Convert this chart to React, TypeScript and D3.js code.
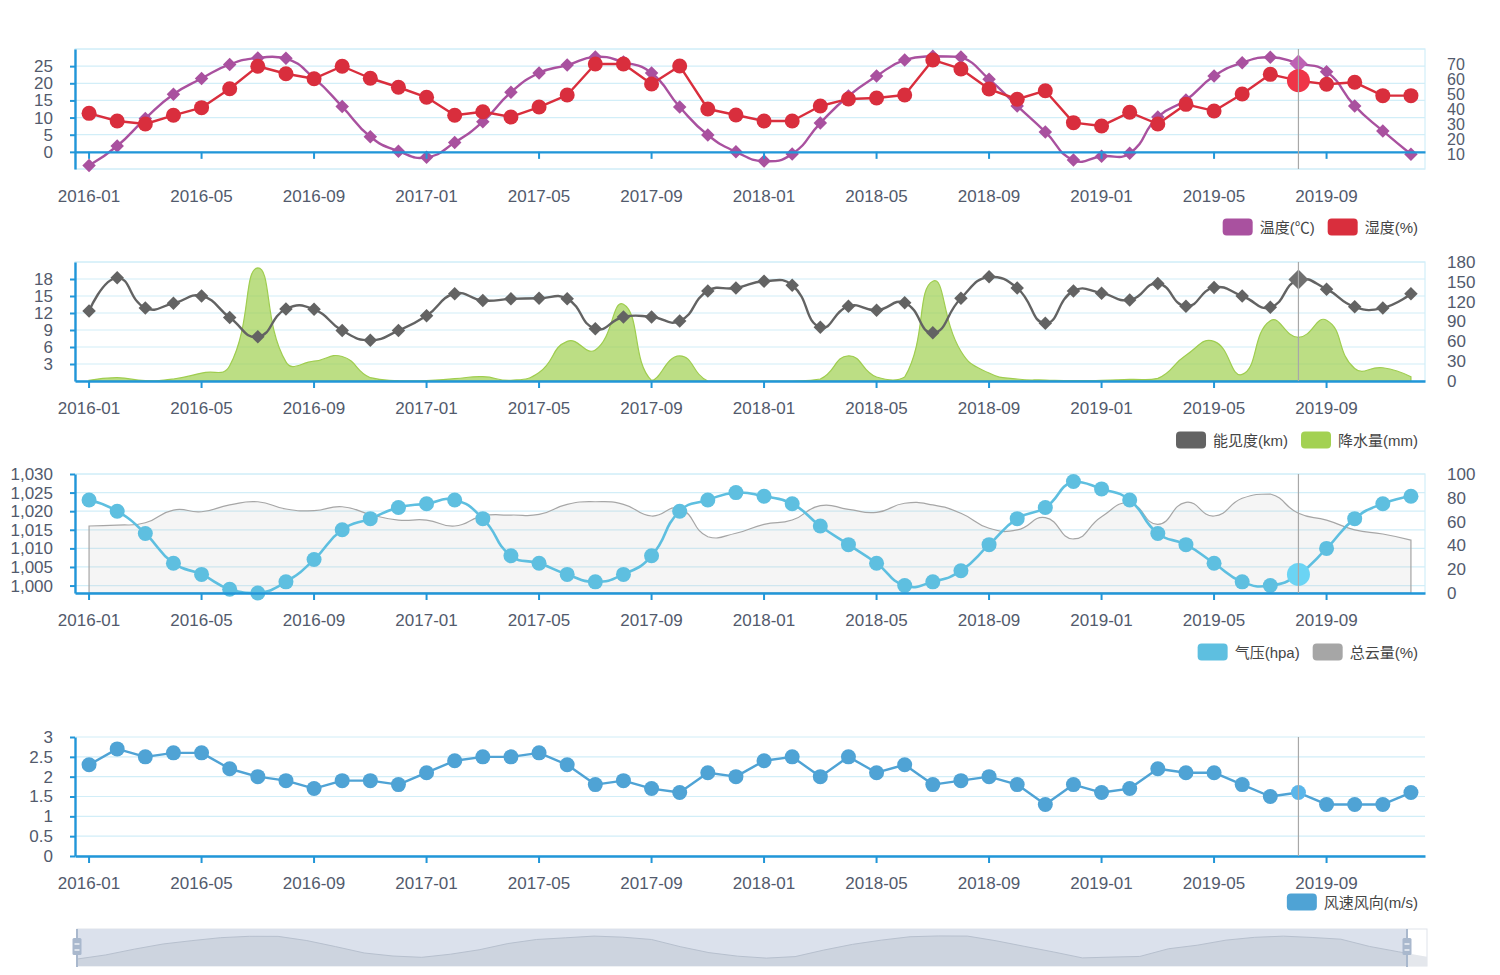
import React, { useEffect, useRef } from 'react';
import * as d3 from 'd3';

const months = [
  '2016-01', '2016-02', '2016-03', '2016-04', '2016-05', '2016-06', '2016-07', '2016-08', '2016-09', '2016-10', '2016-11', '2016-12',
  '2017-01', '2017-02', '2017-03', '2017-04', '2017-05', '2017-06', '2017-07', '2017-08', '2017-09', '2017-10', '2017-11', '2017-12',
  '2018-01', '2018-02', '2018-03', '2018-04', '2018-05', '2018-06', '2018-07', '2018-08', '2018-09', '2018-10', '2018-11', '2018-12',
  '2019-01', '2019-02', '2019-03', '2019-04', '2019-05', '2019-06', '2019-07', '2019-08', '2019-09', '2019-10', '2019-11', '2019-12',
];

const temperature = [
  -4.0, 1.7, 9.7, 16.8, 21.4, 25.5, 27.4, 27.3, 21.5, 13.2, 4.4, 0.2,
  -1.6, 2.7, 8.8, 17.4, 23.0, 25.3, 27.7, 26.2, 23.0, 13.1, 4.9, 0.0,
  -2.7, -0.6, 8.4, 16.3, 22.1, 26.8, 27.9, 27.7, 21.2, 13.4, 5.8, -2.4,
  -1.3, -0.4, 10.2, 15.1, 22.1, 26.0, 27.6, 25.8, 23.4, 13.4, 6.1, -0.7,
];
const humidity = [
  37.1, 32, 30, 35.8, 40.9, 53.5, 68.5, 63.5, 60.2, 68.5, 60.5, 54.5,
  47.8, 35.8, 38.2, 34.7, 41.3, 49.3, 70, 70, 56.7, 68.7, 40, 36,
  32, 32, 42, 46.7, 47.3, 49.3, 72.7, 66.7, 53.3, 46.5, 52.2, 30.9,
  28.7, 37.8, 30, 43.1, 38.7, 50, 63.1, 58.9, 56.5, 57.8, 48.9, 48.9,
];
const visibility = [
  12.35, 18.2, 12.9, 13.7, 15, 11.2, 7.8, 12.7, 12.65, 8.9, 7.2, 8.9,
  11.5, 15.4, 14.2, 14.5, 14.6, 14.5, 9.2, 11.3, 11.3, 10.6, 15.9, 16.4,
  17.6, 16.9, 9.5, 13.2, 12.5, 13.8, 8.5, 14.6, 18.4, 16.4, 10.2, 15.9,
  15.5, 14.3, 17.2, 13.2, 16.5, 15, 13, 17.9, 16.2, 13.1, 12.9, 15.4,
];
const precipitation = [
  1, 5, 0.5, 3, 12, 23, 171, 29, 30, 37, 5, 0.5,
  0.5, 3.5, 6.5, 1, 13, 60, 47, 116, 1, 38, 0, 0,
  0, 0, 3, 38, 6, 6, 151, 45, 12, 3, 1.5, 0.5,
  1, 2.5, 4, 39, 60, 10, 91, 66, 92, 19, 20, 6.5,
];
const pressure = [
  1023, 1020, 1014, 1006, 1003, 999, 998, 1001, 1007, 1015, 1018, 1021,
  1022, 1023, 1018, 1008, 1006, 1003, 1001, 1003, 1008, 1020, 1023, 1025,
  1024, 1022, 1016, 1011, 1006, 1000, 1001, 1004, 1011, 1018, 1021, 1028,
  1026, 1023, 1014, 1011, 1006, 1001, 1000, 1003, 1010, 1018, 1022, 1024,
];
const cloud = [
  56.3, 57, 59, 69.7, 68.3, 74, 76.7, 70.6, 69.2, 72.5, 66, 61.3,
  61.3, 56.3, 64.7, 65.5, 66, 74.5, 76.7, 74.5, 64.7, 71, 47.3, 50.2,
  57.7, 61.3, 73.4, 70.3, 67.8, 75.4, 74, 67, 54.4, 53, 63.3, 45.4,
  64, 75.4, 57.7, 76.2, 64.7, 79.6, 83.2, 67, 61.3, 53, 49.6, 44.5,
];
const wind = [
  2.3, 2.7, 2.5, 2.6, 2.6, 2.2, 2.0, 1.9, 1.7, 1.9, 1.9, 1.8,
  2.1, 2.4, 2.5, 2.5, 2.6, 2.3, 1.8, 1.9, 1.7, 1.6, 2.1, 2.0,
  2.4, 2.5, 2.0, 2.5, 2.1, 2.3, 1.8, 1.9, 2.0, 1.8, 1.3, 1.8,
  1.6, 1.7, 2.2, 2.1, 2.1, 1.8, 1.5, 1.6, 1.3, 1.3, 1.3, 1.6,
];

const tempTicks = [0, 5, 10, 15, 20, 25];
const tempGrid = [-5, 0, 5, 10, 15, 20, 25, 30];
const humidTicks = [10, 20, 30, 40, 50, 60, 70];
const visTicks = [3, 6, 9, 12, 15, 18];
const visGrid = [0, 3, 6, 9, 12, 15, 18, 21];
const rainTicks = [0, 30, 60, 90, 120, 150, 180];
const pressTicks = [1000, 1005, 1010, 1015, 1020, 1025, 1030];
const cloudTicks = [0, 20, 40, 60, 80, 100];
const windTicks = [0, 0.5, 1, 1.5, 2, 2.5, 3];

const hoverMonth = '2019-08';

const W = 1500;
const H = 975;
const LEFT = 75;
const RIGHT = 1425;
const FONT = '"Liberation Sans", Arial, "Noto Sans CJK SC", sans-serif';
const AXIS = '#2196d8';
const SPLIT = '#d2eef8';
const LABEL = '#525a6c';

// echarts-like bezier smoothing (smooth: true -> 0.5)
function smoothCurve(s: number) {
  return function (context: any) {
    let pts: number[][] = [];
    let line = NaN;
    return {
      areaStart() { line = 0; },
      areaEnd() { line = NaN; },
      lineStart() { pts = []; },
      point(px: number, py: number) { pts.push([+px, +py]); },
      lineEnd() {
        const n = pts.length;
        if (n) {
          const lo = [d3.min(pts, p => p[0])!, d3.min(pts, p => p[1])!];
          const hi = [d3.max(pts, p => p[0])!, d3.max(pts, p => p[1])!];
          const clamp = (p: number[]) => [
            Math.min(hi[0], Math.max(lo[0], p[0])),
            Math.min(hi[1], Math.max(lo[1], p[1])),
          ];
          if (line === 1) context.lineTo(pts[0][0], pts[0][1]);
          else context.moveTo(pts[0][0], pts[0][1]);
          let cp0 = pts[0];
          for (let i = 1; i < n; i++) {
            const p = pts[i], prev = pts[i - 1], next = pts[i + 1];
            let cp1 = p;
            let v = [0, 0];
            let ratio = 0.5;
            if (next) {
              v = [next[0] - prev[0], next[1] - prev[1]];
              const lp = Math.hypot(p[0] - prev[0], p[1] - prev[1]);
              const ln = Math.hypot(next[0] - p[0], next[1] - p[1]);
              ratio = lp + ln ? ln / (lp + ln) : 0.5;
              cp1 = [p[0] - v[0] * s * (1 - ratio), p[1] - v[1] * s * (1 - ratio)];
            }
            const a = clamp(cp0), b = clamp(cp1);
            context.bezierCurveTo(a[0], a[1], b[0], b[1], p[0], p[1]);
            cp0 = [p[0] + v[0] * s * ratio, p[1] + v[1] * s * ratio];
          }
        }
        if (line || (line !== 0 && n === 1)) context.closePath();
        line = 1 - line;
      },
    };
  };
}

export default function App() {
  const ref = useRef<SVGSVGElement>(null);

  useEffect(() => {
    const svg = d3.select(ref.current!);
    svg.selectAll('*').remove();

    const x = d3.scaleBand<string>().domain(months).range([LEFT, RIGHT]);
    const bw = x.bandwidth();
    const px = (i: number) => (x(months[i]) as number) + bw / 2;
    const hi = months.indexOf(hoverMonth);
    const labelMonths = months.filter((_, i) => i % 4 === 0);
    const smooth = smoothCurve(0.5);

    const frame = (cfg: any) => {
      const g = svg.append('g');
      const back = g.append('g');
      const series = g.append('g');
      const front = g.append('g');
      const yL = d3.scaleLinear().domain(cfg.lDomain).range([cfg.bottom, cfg.top]);

      back.selectAll('line').data(cfg.grid).join('line')
        .attr('x1', LEFT).attr('x2', RIGHT)
        .attr('y1', (d: any) => yL(d)).attr('y2', (d: any) => yL(d))
        .attr('stroke', SPLIT).attr('stroke-width', 1.2);
      if (cfg.border) {
        back.append('rect')
          .attr('x', LEFT).attr('y', cfg.top)
          .attr('width', RIGHT - LEFT).attr('height', cfg.bottom - cfg.top)
          .attr('fill', 'none').attr('stroke', SPLIT).attr('stroke-width', 1.2);
      }

      // left axis
      front.append('g')
        .attr('transform', `translate(${LEFT},0)`)
        .call(d3.axisLeft(yL).tickValues(cfg.lTicks).tickSize(5).tickSizeOuter(0).tickPadding(17).tickFormat(cfg.fmt))
        .call((a: any) => {
          a.attr('font-size', 17).attr('font-family', FONT);
          a.select('.domain').attr('stroke', AXIS).attr('stroke-width', 2.4);
          a.selectAll('line').attr('stroke', AXIS).attr('stroke-width', 2);
          a.selectAll('text').attr('fill', LABEL);
        });

      let yR: any = null;
      if (cfg.rDomain) {
        yR = d3.scaleLinear().domain(cfg.rDomain).range([cfg.bottom, cfg.top]);
        front.append('g')
          .attr('transform', `translate(${RIGHT},0)`)
          .call(d3.axisRight(yR).tickValues(cfg.rTicks).tickSize(0).tickPadding(22))
          .call((a: any) => {
            a.attr('font-size', cfg.rFont || 17).attr('font-family', FONT);
            a.select('.domain').remove();
            a.selectAll('text').attr('fill', LABEL);
          });
      }

      // x axis line + ticks
      front.append('g')
        .attr('transform', `translate(0,${yL(cfg.axisAt)})`)
        .call(d3.axisBottom(x).tickValues(labelMonths).tickSize(7).tickSizeOuter(0).tickFormat(() => ''))
        .call((a: any) => {
          a.select('.domain').attr('stroke', AXIS).attr('stroke-width', 2.4);
          a.selectAll('line').attr('stroke', AXIS).attr('stroke-width', 2);
        });
      front.append('g').selectAll('text').data(labelMonths).join('text')
        .attr('x', d => (x(d) as number) + bw / 2)
        .attr('y', cfg.bottom + 33)
        .attr('text-anchor', 'middle')
        .attr('font-size', 17).attr('font-family', FONT).attr('fill', LABEL)
        .text(d => d);

      return { series, yL, yR, top: cfg.top, bottom: cfg.bottom };
    };

    const linePath = (g: any, y: any, values: number[], color: string, width: number, curve: any) => {
      g.append('path').datum(values)
        .attr('fill', 'none').attr('stroke', color).attr('stroke-width', width)
        .attr('stroke-linejoin', 'round')
        .attr('d', d3.line<number>().x((_, i) => px(i)).y(d => y(d)).curve(curve));
    };
    const circles = (g: any, y: any, values: number[], color: string, hiColor: string, r: number, rHi: number) => {
      g.append('g').selectAll('circle').data(values).join('circle')
        .attr('cx', (_: any, i: number) => px(i)).attr('cy', (d: number) => y(d))
        .attr('r', (_: any, i: number) => (i === hi ? rHi : r))
        .attr('fill', (_: any, i: number) => (i === hi ? hiColor : color));
    };
    const diamonds = (g: any, y: any, values: number[], color: string, hiColor: string, w: number, wHi: number) => {
      const sym = d3.symbol().type(d3.symbolSquare);
      g.append('g').selectAll('path').data(values).join('path')
        .attr('d', (_: any, i: number) => sym.size(((i === hi ? wHi : w) / Math.SQRT2) ** 2)())
        .attr('transform', (d: number, i: number) => `translate(${px(i)},${y(d)}) rotate(45)`)
        .attr('fill', (_: any, i: number) => (i === hi ? hiColor : color));
    };

    const legend = (items: { name: string; color: string }[], cy: number) => {
      const g = svg.append('g').attr('font-size', 15).attr('font-family', FONT);
      const widths = items.map(it => {
        const t = g.append('text').text(it.name);
        const w = (t.node() as SVGTextElement).getComputedTextLength();
        t.remove();
        return w;
      });
      const total = d3.sum(widths) + items.length * 37 + (items.length - 1) * 13;
      let lx = 1418 - total;
      items.forEach((it, k) => {
        g.append('rect').attr('x', lx).attr('y', cy - 8.5).attr('width', 30).attr('height', 17)
          .attr('rx', 4).attr('fill', it.color);
        g.append('text').attr('x', lx + 37).attr('y', cy + 5.5).attr('fill', '#454545').text(it.name);
        lx += 37 + widths[k] + 13;
      });
    };

    // panel 1: temperature / humidity
    const p1 = frame({
      top: 49, bottom: 169, lDomain: [-5, 30], lTicks: tempTicks, grid: tempGrid, fmt: (d: any) => String(d),
      rDomain: [0, 80], rTicks: humidTicks, rFont: 16, axisAt: 0, border: true,
    });
    linePath(p1.series, p1.yL, temperature, '#a9519f', 2.4, smooth);
    diamonds(p1.series, p1.yL, temperature, '#a9519f', '#bd62b4', 13.5, 18);
    linePath(p1.series, p1.yR, humidity, '#d92e3d', 2.4, d3.curveLinear);
    circles(p1.series, p1.yR, humidity, '#d92e3d', '#ef3548', 7.5, 11.5);
    legend([{ name: '温度(℃)', color: '#a9519f' }, { name: '湿度(%)', color: '#d92e3d' }], 227);

    // panel 2: visibility / precipitation
    const p2 = frame({
      top: 262, bottom: 381, lDomain: [0, 21], lTicks: visTicks, grid: visGrid, fmt: (d: any) => String(d),
      rDomain: [0, 180], rTicks: rainTicks, axisAt: 0, border: true,
    });
    p2.series.append('path').datum(precipitation)
      .attr('fill', 'rgba(160, 208, 80, 0.7)').attr('stroke', '#9fcd4f').attr('stroke-width', 1.2)
      .attr('d', d3.area<number>().x((_, i) => px(i)).y0(p2.yR(0)).y1(d => p2.yR(d)).curve(smooth));
    linePath(p2.series, p2.yL, visibility, '#636363', 2.4, smooth);
    diamonds(p2.series, p2.yL, visibility, '#636363', '#707070', 13.5, 20);
    legend([{ name: '能见度(km)', color: '#636363' }, { name: '降水量(mm)', color: '#a3d152' }], 440);

    // panel 3: pressure / cloud
    const p3 = frame({
      top: 474, bottom: 593, lDomain: [d3.min(pressure)!, 1030], lTicks: pressTicks, grid: pressTicks,
      fmt: d3.format(','), rDomain: [0, 100], rTicks: cloudTicks, axisAt: d3.min(pressure)!, border: true,
    });
    p3.series.append('path').datum(cloud)
      .attr('fill', 'rgba(190, 190, 190, 0.16)').attr('stroke', '#a6a6a6').attr('stroke-width', 1.2)
      .attr('d', d3.area<number>().x((_, i) => px(i)).y0(p3.yR(0)).y1(d => p3.yR(d)).curve(smooth));
    linePath(p3.series, p3.yL, pressure, '#5ebfe0', 2.6, smooth);
    circles(p3.series, p3.yL, pressure, '#5ebfe0', '#6bd4f4', 7.5, 11.5);
    legend([{ name: '气压(hpa)', color: '#5ebfe0' }, { name: '总云量(%)', color: '#a6a6a6' }], 652);

    // panel 4: wind
    const p4 = frame({
      top: 737, bottom: 856, lDomain: [0, 3], lTicks: windTicks, grid: windTicks, fmt: (d: any) => String(d),
      axisAt: 0, border: false,
    });
    linePath(p4.series, p4.yL, wind, '#4fa3d5', 2.4, d3.curveLinear);
    circles(p4.series, p4.yL, wind, '#4fa3d5', '#5ab6ea', 7.5, 7.5);
    legend([{ name: '风速风向(m/s)', color: '#4fa3d5' }], 902);

    // axis pointer
    const ptr = svg.append('g');
    [p1, p2, p3, p4].forEach(p => {
      ptr.append('line').attr('x1', px(hi)).attr('x2', px(hi)).attr('y1', p.top).attr('y2', p.bottom)
        .attr('stroke', '#a8a8a8').attr('stroke-width', 1.2);
    });

    // data zoom slider
    const zTop = 929, zBot = 966, zL = 77, zR = 1427, zEnd = 1407;
    const z = svg.append('g');
    const [tmin, tmax] = d3.extent(temperature) as [number, number];
    const pad = (tmax - tmin) * 0.3;
    const sy = d3.scaleLinear().domain([tmin - pad, tmax + pad]).range([zBot, zTop]);
    const sx = d3.scaleLinear().domain([0, temperature.length - 1]).range([zL, zR]);
    const shadow = d3.area<number>().x((_, i) => sx(i)).y0(zBot).y1(d => sy(d));
    const shadowLine = d3.line<number>().x((_, i) => sx(i)).y(d => sy(d));
    z.append('rect').attr('x', zL).attr('y', zTop).attr('width', zR - zL).attr('height', zBot - zTop)
      .attr('fill', '#fff').attr('stroke', '#dfe3ea');
    z.append('path').datum(temperature).attr('d', shadow).attr('fill', '#e4e7ec');
    z.append('clipPath').attr('id', 'zclip').append('rect')
      .attr('x', zL).attr('y', zTop).attr('width', zEnd - zL).attr('height', zBot - zTop);
    const zin = z.append('g').attr('clip-path', 'url(#zclip)');
    zin.append('rect').attr('x', zL).attr('y', zTop).attr('width', zEnd - zL).attr('height', zBot - zTop)
      .attr('fill', '#dbe1ec');
    zin.append('path').datum(temperature).attr('d', shadow).attr('fill', '#cdd4df');
    zin.append('path').datum(temperature).attr('d', shadowLine).attr('fill', 'none').attr('stroke', '#b7c0ce');
    [zL, zEnd].forEach(hx => {
      z.append('line').attr('x1', hx).attr('x2', hx).attr('y1', zTop).attr('y2', zBot + 1)
        .attr('stroke', '#a9b8cd').attr('stroke-width', 2);
      z.append('rect').attr('x', hx - 4.5).attr('y', 938).attr('width', 9).attr('height', 17).attr('rx', 1.5)
        .attr('fill', '#a9b8cd');
      [944, 950].forEach(ly => {
        z.append('line').attr('x1', hx - 2.5).attr('x2', hx + 2.5).attr('y1', ly).attr('y2', ly)
          .attr('stroke', '#fff').attr('stroke-width', 1.2);
      });
    });
  }, []);

  return (
    <div style={{ position: 'absolute', left: 0, top: 0 }}>
      <svg ref={ref} width={W} height={H} style={{ display: 'block', fontFamily: FONT }} />
    </div>
  );
}
